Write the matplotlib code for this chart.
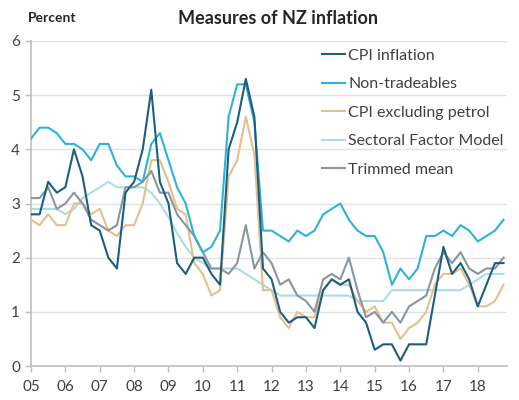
import numpy as np
import matplotlib
matplotlib.use("Agg")
import matplotlib.pyplot as plt

# quarterly data, 2005Q1 - 2018Q4 (annual % change)
cpi = [2.8, 2.8, 3.4, 3.2, 3.3, 4.0, 3.5, 2.6, 2.5, 2.0, 1.8, 3.2, 3.4, 4.0,
       5.1, 3.4, 3.0, 1.9, 1.7, 2.0, 2.0, 1.7, 1.5, 4.0, 4.5, 5.3, 4.6, 1.8,
       1.6, 1.0, 0.8, 0.9, 0.9, 0.7, 1.4, 1.6, 1.5, 1.6, 1.0, 0.8, 0.3, 0.4,
       0.4, 0.1, 0.4, 0.4, 0.4, 1.3, 2.2, 1.7, 1.9, 1.6, 1.1, 1.5, 1.9, 1.9]
non_trad = [4.2, 4.4, 4.4, 4.3, 4.1, 4.1, 4.0, 3.8, 4.1, 4.1, 3.7, 3.5, 3.5, 3.4,
            4.1, 4.3, 3.8, 3.3, 3.0, 2.4, 2.1, 2.2, 2.5, 4.6, 5.2, 5.2, 4.5, 2.5,
            2.5, 2.4, 2.3, 2.5, 2.4, 2.5, 2.8, 2.9, 3.0, 2.7, 2.5, 2.4, 2.4, 2.1,
            1.5, 1.8, 1.6, 1.8, 2.4, 2.4, 2.5, 2.4, 2.6, 2.5, 2.3, 2.4, 2.5, 2.7]
cpi_ex_petrol = [2.7, 2.6, 2.8, 2.6, 2.6, 3.0, 3.0, 2.8, 2.9, 2.5, 2.4, 2.6, 2.6, 3.0,
                 3.8, 3.8, 3.4, 2.9, 2.8, 1.9, 1.7, 1.3, 1.4, 3.5, 3.8, 4.6, 3.9, 1.4,
                 1.4, 0.9, 0.7, 1.0, 0.9, 0.9, 1.4, 1.6, 1.5, 1.5, 1.2, 1.0, 1.1, 0.8,
                 0.8, 0.5, 0.7, 0.8, 1.0, 1.5, 1.7, 1.7, 1.8, 1.5, 1.1, 1.1, 1.2, 1.5]
sfm = [2.9, 2.9, 2.9, 2.9, 2.8, 2.9, 3.1, 3.2, 3.3, 3.4, 3.3, 3.3, 3.3, 3.3,
       3.2, 3.0, 2.75, 2.45, 2.2, 2.0, 1.9, 1.8, 1.8, 1.8, 1.8, 1.7, 1.6, 1.5,
       1.4, 1.3, 1.3, 1.3, 1.3, 1.3, 1.3, 1.3, 1.3, 1.3, 1.2, 1.2, 1.2, 1.2,
       1.4, 1.4, 1.4, 1.4, 1.4, 1.4, 1.4, 1.4, 1.4, 1.5, 1.6, 1.7, 1.7, 1.7]
trimmed = [3.1, 3.1, 3.3, 2.9, 3.0, 3.2, 3.0, 2.7, 2.6, 2.5, 2.6, 3.3, 3.3, 3.4,
           3.6, 3.2, 3.2, 2.8, 2.6, 2.4, 2.1, 1.8, 1.8, 1.7, 1.9, 2.6, 1.8, 2.1,
           1.9, 1.5, 1.6, 1.3, 1.2, 1.0, 1.6, 1.7, 1.6, 2.0, 1.4, 0.9, 1.0, 0.8,
           1.0, 0.8, 1.1, 1.2, 1.3, 1.8, 2.1, 1.9, 2.1, 1.8, 1.7, 1.8, 1.8, 2.0]

years = list(range(2005, 2019))
year_labels = ["%02d" % (y % 100) for y in years]
t = 2005 + np.arange(len(cpi)) * 0.25

plt.rcParams['font.family'] = ['Lato', 'DejaVu Sans']
txt = '#404040'

fig = plt.figure(figsize=(5.19, 4.0), dpi=100)
ax = fig.add_axes([31/519, 34/400, 476/519, 325/400])

ax.plot(t, cpi, color='#1b5f80', lw=1.5, label='CPI inflation', zorder=6)
ax.plot(t, non_trad, color='#2eb2da', lw=1.5, label='Non-tradeables', zorder=5)
ax.plot(t, cpi_ex_petrol, color='#e3c08e', lw=1.5, label='CPI excluding petrol', zorder=3)
ax.plot(t, sfm, color='#acdde6', lw=1.5, label='Sectoral Factor Model', zorder=2)
ax.plot(t, trimmed, color='#8a969f', lw=1.5, label='Trimmed mean', zorder=4)

ax.set_xlim(2005, 2018.85)
ax.set_ylim(0, 6)
ax.set_xticks(years)
ax.set_xticklabels(year_labels)
ax.set_yticks(range(0, 7))
ax.yaxis.grid(True, color='#e3e3e3', lw=1)
ax.set_axisbelow(True)
for s in ['top', 'right']:
    ax.spines[s].set_visible(False)
for s in ['left', 'bottom']:
    ax.spines[s].set_color('#c0c0c0')
    ax.spines[s].set_linewidth(1.2)
ax.tick_params(axis='both', colors='#c0c0c0', labelcolor=txt, labelsize=11,
               length=4, width=1)
ax.tick_params(axis='x', pad=6)
ax.tick_params(axis='y', pad=4)

fig.text(28/519, 1 - 18/400, 'Percent', fontsize=10, fontweight='bold',
         color='#262626', va='center', ha='left')
fig.text(278/519, 1 - 18/400, 'Measures of NZ inflation', fontsize=13,
         fontweight='bold', color='#262626', va='center', ha='center')

leg = ax.legend(loc='upper left', bbox_to_anchor=(322/519, 1 - 48.5/400),
                bbox_transform=fig.transFigure, frameon=False, fontsize=11.5,
                handlelength=1.45, handletextpad=0.2, labelspacing=0.9,
                borderpad=0, borderaxespad=0)
for tx in leg.get_texts():
    tx.set_color(txt)

fig.savefig('out.png', dpi=100)
